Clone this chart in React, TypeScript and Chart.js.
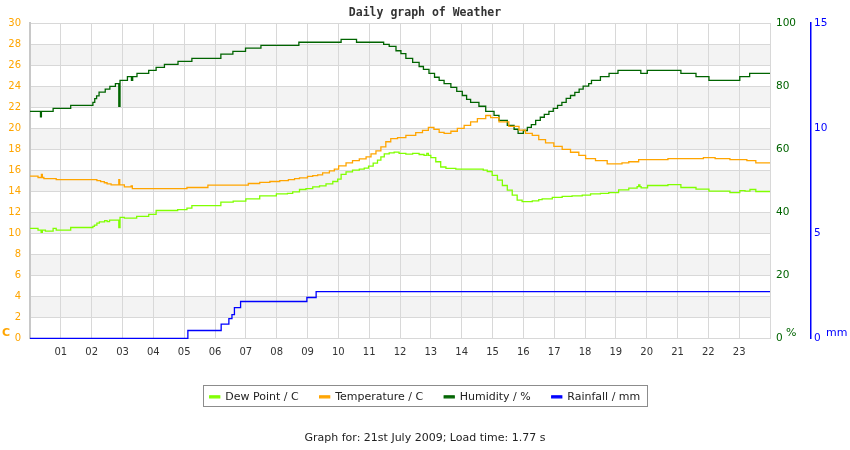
import { useEffect, useRef } from "react";
import { Chart, ChartConfiguration, registerables } from "chart.js";

Chart.register(...registerables);

// hour tick labels (0 and 24 are left blank)
const HOUR_LABELS = [
  "01", "02", "03", "04", "05", "06", "07", "08", "09", "10", "11", "12",
  "13", "14", "15", "16", "17", "18", "19", "20", "21", "22", "23",
];

// [hour, value] – each value holds until the next entry (stepped)
const dewPoint: [number, number][] = [
  [0, 10.45], [0.26, 10.29], [0.36, 10.07], [0.4, 10.29], [0.5, 10.19], [0.75, 10.45],
  [0.85, 10.29], [1.32, 10.54], [2.04, 10.65], [2.09, 10.76], [2.17, 10.95], [2.25, 11.08],
  [2.42, 11.2], [2.5, 11.1], [2.58, 11.24], [2.88, 10.54], [2.92, 11.5], [3.06, 11.43],
  [3.46, 11.6], [3.85, 11.8], [4.09, 12.16], [4.79, 12.25], [5.09, 12.38], [5.25, 12.63],
  [6.19, 12.95], [6.59, 13.05], [7.0, 13.27], [7.45, 13.56], [7.99, 13.75], [8.35, 13.78],
  [8.52, 13.94], [8.74, 14.16], [8.95, 14.25], [9.17, 14.4], [9.39, 14.5], [9.6, 14.7],
  [9.82, 14.92], [9.98, 15.14], [10.09, 15.59], [10.25, 15.84], [10.46, 16.0], [10.68, 16.1],
  [10.84, 16.19], [10.98, 16.38], [11.13, 16.67], [11.27, 16.95], [11.38, 17.27], [11.49, 17.55],
  [11.65, 17.65], [11.81, 17.71], [11.97, 17.59], [12.19, 17.52], [12.41, 17.6], [12.62, 17.49],
  [12.78, 17.4], [12.87, 17.6], [12.92, 17.4], [13.0, 17.2], [13.16, 16.8], [13.32, 16.3],
  [13.49, 16.16], [13.81, 16.1], [14.7, 16.0], [14.83, 15.87], [14.99, 15.5], [15.16, 15.05],
  [15.32, 14.54], [15.48, 14.1], [15.64, 13.62], [15.8, 13.14], [15.96, 13.0], [16.29, 13.08],
  [16.5, 13.2], [16.61, 13.27], [16.94, 13.4], [17.26, 13.5], [17.58, 13.56], [17.91, 13.62],
  [18.18, 13.75], [18.5, 13.78], [18.77, 13.87], [19.09, 14.13], [19.42, 14.29], [19.69, 14.44],
  [19.74, 14.6], [19.78, 14.44], [19.82, 14.32], [20.03, 14.54], [20.69, 14.63], [21.11, 14.35],
  [21.6, 14.19], [22.02, 14.0], [22.7, 13.87], [23.02, 14.06], [23.19, 14.0], [23.35, 14.16],
  [23.54, 13.97], [24, 13.97],
];

const temperature: [number, number][] = [
  [0, 15.43], [0.26, 15.3], [0.37, 15.6], [0.4, 15.3], [0.45, 15.2], [0.85, 15.1],
  [2.17, 15.0], [2.29, 14.9], [2.41, 14.8], [2.5, 14.7], [2.63, 14.6], [2.88, 15.1],
  [2.91, 14.6], [3.06, 14.4], [3.28, 14.5], [3.32, 14.25], [5.09, 14.35], [5.77, 14.57],
  [7.08, 14.73], [7.45, 14.83], [7.78, 14.92], [8.1, 15.0], [8.38, 15.1], [8.58, 15.2],
  [8.74, 15.27], [9.0, 15.4], [9.17, 15.47], [9.33, 15.55], [9.49, 15.74], [9.71, 15.93],
  [9.87, 16.1], [10.01, 16.4], [10.25, 16.7], [10.46, 16.9], [10.68, 17.08], [10.9, 17.27],
  [11.06, 17.55], [11.22, 17.84], [11.38, 18.22], [11.54, 18.7], [11.7, 19.0], [11.92, 19.1],
  [12.19, 19.3], [12.51, 19.56], [12.73, 19.78], [12.92, 20.07], [13.1, 19.87], [13.27, 19.6],
  [13.43, 19.5], [13.65, 19.7], [13.86, 19.97], [14.08, 20.26], [14.29, 20.6], [14.51, 20.9],
  [14.78, 21.2], [14.94, 21.0], [15.21, 20.6], [15.53, 20.16], [15.86, 19.8], [16.07, 19.5],
  [16.29, 19.3], [16.5, 18.9], [16.72, 18.6], [16.99, 18.26], [17.26, 17.97], [17.53, 17.7],
  [17.8, 17.4], [18.02, 17.1], [18.34, 16.9], [18.72, 16.6], [19.2, 16.7], [19.42, 16.8],
  [19.74, 17.0], [20.69, 17.1], [21.84, 17.2], [22.22, 17.1], [22.7, 17.0], [23.25, 16.9],
  [23.54, 16.7], [24, 16.7],
];

const humidity: [number, number][] = [
  [0, 72.0], [0.34, 70.2], [0.37, 72.0], [0.75, 72.9], [1.32, 73.9], [2.04, 74.8],
  [2.1, 76.0], [2.16, 76.9], [2.24, 78.1], [2.44, 79.0], [2.59, 79.9], [2.77, 80.8],
  [2.88, 73.6], [2.92, 81.8], [3.16, 83.0], [3.29, 81.8], [3.33, 83.0], [3.47, 84.0],
  [3.85, 85.0], [4.09, 85.9], [4.36, 86.9], [4.8, 87.8], [5.25, 88.8], [6.19, 90.1],
  [6.58, 91.0], [6.99, 92.0], [7.49, 92.9], [8.72, 93.9], [10.09, 94.8], [10.59, 93.9],
  [11.47, 93.2], [11.65, 92.6], [11.87, 91.2], [12.03, 90.3], [12.19, 88.8], [12.41, 87.5],
  [12.62, 86.2], [12.76, 85.3], [12.94, 84.0], [13.12, 82.8], [13.27, 81.8], [13.43, 80.8],
  [13.65, 79.6], [13.84, 78.3], [14.02, 77.0], [14.16, 75.8], [14.29, 74.8], [14.56, 73.6],
  [14.78, 72.0], [15.05, 70.7], [15.21, 69.1], [15.48, 67.5], [15.7, 66.3], [15.83, 65.0],
  [16.0, 65.9], [16.13, 66.9], [16.26, 67.8], [16.4, 69.1], [16.55, 70.1], [16.68, 71.0],
  [16.83, 72.0], [16.97, 72.9], [17.11, 73.9], [17.25, 74.8], [17.39, 76.1], [17.53, 77.0],
  [17.67, 78.0], [17.81, 79.0], [17.94, 80.0], [18.12, 80.8], [18.21, 81.8], [18.5, 83.0],
  [18.78, 84.0], [19.07, 85.0], [19.81, 84.0], [20.02, 85.0], [21.11, 84.0], [21.6, 83.0],
  [22.02, 81.8], [23.02, 83.0], [23.34, 84.0], [24, 84.0],
];

const rainfall: [number, number][] = [
  [0, 0], [5.12, 0.37], [6.2, 0.67], [6.45, 0.94], [6.55, 1.13], [6.63, 1.46],
  [6.83, 1.75], [8.98, 1.94], [9.28, 2.22], [24, 2.22],
];

const SERIES = [
  { label: "Dew Point / C", data: dewPoint, color: "#80ff00", axis: "y" },
  { label: "Temperature / C", data: temperature, color: "#ffa500", axis: "y" },
  { label: "Humidity / %", data: humidity, color: "#006400", axis: "yH" },
  { label: "Rainfall / mm", data: rainfall, color: "#0000ff", axis: "yR" },
];

const GRID = "#d8d8d8";
const BAND = "#f3f3f3";
const FONT = "DejaVu Sans";

// alternate grey bands between left-axis ticks
const bandPlugin = {
  id: "bands",
  beforeDraw(chart: any) {
    const { ctx, chartArea } = chart;
    const y = chart.scales.y;
    const ticks = y.ticks;
    ctx.save();
    ctx.fillStyle = BAND;
    for (let i = 1; i < ticks.length - 1; i += 2) {
      const bottom = y.getPixelForValue(ticks[i].value);
      const top = y.getPixelForValue(ticks[i + 1].value);
      ctx.fillRect(chartArea.left, top, chartArea.right - chartArea.left, bottom - top);
    }
    ctx.restore();
  },
};

// unit captions next to the axes
const unitPlugin = {
  id: "units",
  afterDraw(chart: any) {
    const { ctx, chartArea } = chart;
    const yR = chart.scales.yR;
    const base = chartArea.bottom - 5;
    ctx.save();
    ctx.textBaseline = "middle";
    ctx.textAlign = "left";
    ctx.font = `bold 11px ${FONT}`;
    ctx.fillStyle = "#ffa500";
    ctx.fillText("C", 2, base);
    ctx.font = `11px ${FONT}`;
    ctx.fillStyle = "#006400";
    ctx.fillText("%", chartArea.right + 16, base);
    ctx.fillStyle = "#0000ff";
    ctx.fillText("mm", yR.left + 15, base);
    ctx.restore();
  },
};

// frame around the legend entries
const legendFramePlugin = {
  id: "legendFrame",
  afterDraw(chart: any) {
    const boxes = chart.legend?.legendHitBoxes;
    if (!boxes || !boxes.length) return;
    const first = boxes[0];
    const last = boxes[boxes.length - 1];
    const cy = first.top + first.height / 2;
    const left = Math.round(first.left - 7) + 0.5;
    const right = Math.round(last.left + last.width + 7) + 0.5;
    const top = Math.round(cy - 11.5) + 0.5;
    const ctx = chart.ctx;
    ctx.save();
    ctx.strokeStyle = "#8c8c8c";
    ctx.lineWidth = 1;
    ctx.strokeRect(left, top, right - left, 21);
    ctx.restore();
  },
};

export default function App() {
  const canvasRef = useRef<HTMLCanvasElement>(null);
  const chartRef = useRef<Chart | null>(null);

  useEffect(() => {
    if (!canvasRef.current) return;
    const ctx = canvasRef.current.getContext("2d");
    if (!ctx) return;

    Chart.defaults.font.family = FONT;

    const config: ChartConfiguration = {
      type: "line",
      data: {
        datasets: SERIES.map((s) => ({
          label: s.label,
          data: s.data.map(([x, y]) => ({ x, y })),
          borderColor: s.color,
          backgroundColor: s.color,
          borderWidth: 1.3,
          pointRadius: 0,
          stepped: true,
          fill: false,
          clip: false,
          yAxisID: s.axis,
        })),
      },
      options: {
        animation: false,
        responsive: true,
        maintainAspectRatio: false,
        layout: { padding: 0 },
        plugins: {
          tooltip: { enabled: false },
          title: {
            display: true,
            text: "Daily graph of Weather",
            color: "#333333",
            font: { family: "DejaVu Sans Mono", size: 11.5, weight: "bold", lineHeight: "14px" },
            padding: { top: 6, bottom: 3 },
          },
          subtitle: {
            display: true,
            position: "bottom",
            text: "Graph for: 21st July 2009; Load time: 1.77 s",
            color: "#222222",
            font: { family: FONT, size: 11 },
            padding: { top: 19.5, bottom: 5 },
          },
          legend: {
            position: "bottom",
            labels: {
              boxWidth: 10,
              boxHeight: 2,
              padding: 21,
              color: "#222222",
              font: { family: FONT, size: 11 },
            },
          },
        },
        scales: {
          x: {
            type: "linear",
            min: 0,
            max: 24,
            ticks: {
              stepSize: 1,
              autoSkip: false,
              maxRotation: 0,
              padding: 8,
              color: "#333333",
              font: { size: 10 },
              callback: (v: any) => HOUR_LABELS[Number(v) - 1] ?? "",
            },
            grid: { color: GRID, drawTicks: false },
            border: { display: true, color: GRID },
            afterFit: (scale: any) => {
              scale.height = 32;
            },
          },
          y: {
            position: "left",
            min: 0,
            max: 30,
            ticks: { stepSize: 2, padding: 9, color: "#ffa500", font: { size: 10 } },
            grid: { color: GRID, drawTicks: false },
            border: { display: true, color: "#c8c8c8", width: 2 },
            afterFit: (scale: any) => {
              scale.width = 30;
            },
          },
          yH: {
            position: "right",
            weight: 1,
            min: 0,
            max: 100,
            ticks: { stepSize: 20, padding: 6, color: "#006400", font: { size: 10.5 } },
            grid: { display: false, drawTicks: false },
            border: { display: false },
            afterFit: (scale: any) => {
              scale.width = 41;
            },
          },
          yR: {
            position: "right",
            weight: 2,
            min: 0,
            max: 15,
            ticks: { stepSize: 5, padding: 3, color: "#0000ff", font: { size: 10.5 } },
            grid: { display: false, drawTicks: false },
            border: { display: true, color: "#0000ff", width: 1.5 },
            afterFit: (scale: any) => {
              scale.width = 39;
            },
          },
        },
      },
      plugins: [bandPlugin, unitPlugin, legendFramePlugin],
    };

    chartRef.current = new Chart(ctx, config);

    return () => {
      if (chartRef.current) {
        chartRef.current.destroy();
        chartRef.current = null;
      }
    };
  }, []);

  return (
    <div style={{ position: "absolute", left: 0, top: 0, width: 850, height: 450, background: "#ffffff" }}>
      <canvas ref={canvasRef} />
    </div>
  );
}
